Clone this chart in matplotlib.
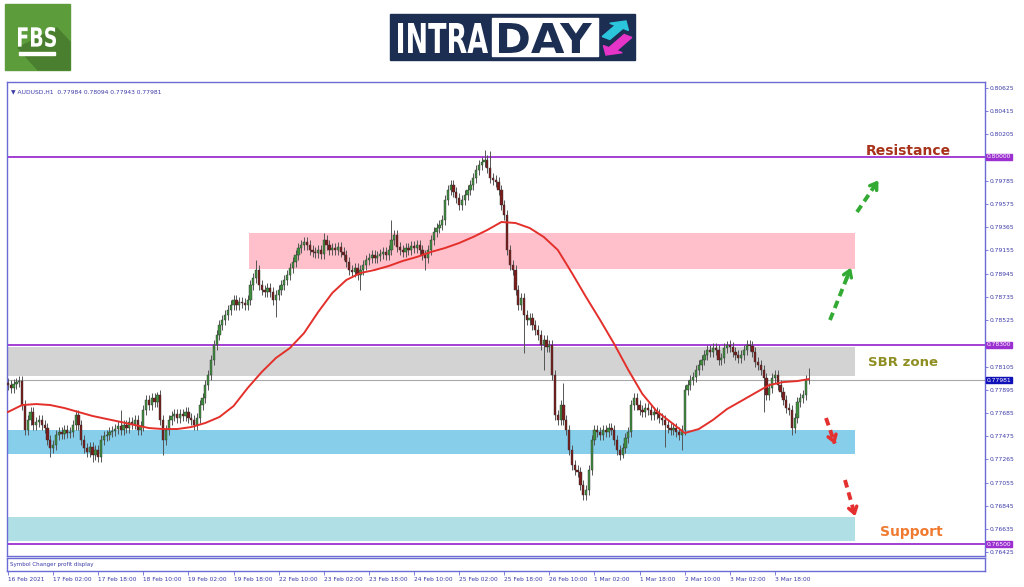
import numpy as np
import matplotlib
matplotlib.use("Agg")
import matplotlib.pyplot as plt
from matplotlib.patches import Rectangle, Polygon, FancyArrow, PathPatch
from matplotlib.textpath import TextPath
from matplotlib.transforms import Affine2D
from matplotlib.font_manager import FontProperties

# ---- data (AUDUSD H1) ----
time_labels = ['16 Feb 2021', '17 Feb 02:00', '17 Feb 18:00', '18 Feb 10:00', '19 Feb 02:00',
               '19 Feb 18:00', '22 Feb 10:00', '23 Feb 02:00', '23 Feb 18:00', '24 Feb 10:00',
               '25 Feb 02:00', '25 Feb 18:00', '26 Feb 10:00', '1 Mar 02:00', '1 Mar 18:00',
               '2 Mar 10:00', '3 Mar 02:00', '3 Mar 18:00']
bars_per_label = 16

first_open = 0.77960
closes = [
    0.77938, 0.77911, 0.77947, 0.77965, 0.77974, 0.77757, 0.77531, 0.77622, 0.77694, 0.77576,
    0.77604, 0.77622, 0.77576, 0.77549, 0.77441, 0.77369, 0.77396, 0.77486, 0.77513, 0.77495,
    0.77531, 0.77504, 0.77513, 0.77576, 0.77667, 0.77576, 0.77441, 0.77369, 0.77332, 0.77378,
    0.77305, 0.77350, 0.77287, 0.77441, 0.77477, 0.77486, 0.77513, 0.77522, 0.77540, 0.77567,
    0.77531, 0.77576, 0.77549, 0.77604, 0.77585, 0.77622, 0.77531, 0.77567, 0.77712, 0.77803,
    0.77757, 0.77821, 0.77784, 0.77848, 0.77622, 0.77441, 0.77531, 0.77622, 0.77658, 0.77676,
    0.77640, 0.77676, 0.77658, 0.77694, 0.77640, 0.77622, 0.77576, 0.77640, 0.77757, 0.77821,
    0.77938, 0.78029, 0.78164, 0.78300, 0.78390, 0.78481, 0.78526, 0.78571, 0.78616, 0.78662,
    0.78707, 0.78662, 0.78689, 0.78680, 0.78662, 0.78707, 0.78843, 0.78906, 0.78978, 0.78843,
    0.78797, 0.78779, 0.78815, 0.78779, 0.78707, 0.78752, 0.78797, 0.78843, 0.78888, 0.78933,
    0.78996, 0.79050, 0.79114, 0.79177, 0.79204, 0.79231, 0.79204, 0.79159, 0.79141, 0.79132,
    0.79159, 0.79123, 0.79249, 0.79204, 0.79159, 0.79177, 0.79159, 0.79186, 0.79141, 0.79114,
    0.79050, 0.78978, 0.78960, 0.78996, 0.78933, 0.78978, 0.79023, 0.79069, 0.79087, 0.79114,
    0.79087, 0.79105, 0.79123, 0.79141, 0.79114, 0.79159, 0.79249, 0.79295, 0.79186, 0.79159,
    0.79141, 0.79177, 0.79159, 0.79195, 0.79177, 0.79204, 0.79159, 0.79114, 0.79087, 0.79159,
    0.79249, 0.79322, 0.79358, 0.79385, 0.79430, 0.79611, 0.79702, 0.79747, 0.79683, 0.79629,
    0.79566, 0.79611, 0.79656, 0.79702, 0.79747, 0.79810, 0.79882, 0.79928, 0.79955, 0.79973,
    0.79901, 0.79810, 0.79792, 0.79774, 0.79702, 0.79566, 0.79476, 0.79159, 0.79023, 0.78978,
    0.78797, 0.78662, 0.78725, 0.78571, 0.78526, 0.78544, 0.78481, 0.78436, 0.78390, 0.78300,
    0.78345, 0.78282, 0.78300, 0.78029, 0.77667, 0.77622, 0.77757, 0.77622, 0.77531, 0.77350,
    0.77215, 0.77170, 0.77152, 0.77034, 0.76944, 0.76989, 0.77170, 0.77441, 0.77531, 0.77513,
    0.77486, 0.77531, 0.77513, 0.77549, 0.77531, 0.77441, 0.77350, 0.77305, 0.77369, 0.77459,
    0.77513, 0.77757, 0.77821, 0.77757, 0.77712, 0.77694, 0.77730, 0.77712, 0.77667, 0.77694,
    0.77676, 0.77640, 0.77622, 0.77576, 0.77549, 0.77531, 0.77549, 0.77513, 0.77486, 0.77531,
    0.77893, 0.77938, 0.77983, 0.78010, 0.78074, 0.78119, 0.78164, 0.78209, 0.78255, 0.78237,
    0.78273, 0.78255, 0.78164, 0.78182, 0.78273, 0.78300, 0.78282, 0.78237, 0.78209, 0.78182,
    0.78209, 0.78255, 0.78300, 0.78291, 0.78237, 0.78146, 0.78119, 0.78074, 0.78001, 0.77848,
    0.77911, 0.78001, 0.78029, 0.77938, 0.77875, 0.77803, 0.77730, 0.77712, 0.77549, 0.77640,
    0.77784, 0.77821, 0.77848, 0.77984, 0.77981,
]
# spikes that stick out further than the usual wick
spike_highs = {3: 0.78001, 40: 0.77712, 53: 0.77875, 88: 0.79069, 112: 0.79313, 136: 0.79430,
               169: 0.80063, 171: 0.80054, 197: 0.77956, 255: 0.78336, 284: 0.78094}
spike_lows = {15: 0.77287, 30: 0.77242, 55: 0.77305, 95: 0.78553, 125: 0.78797, 148: 0.78978,
              183: 0.78228, 190: 0.78074, 204: 0.76898, 218: 0.77278, 233: 0.77378, 239: 0.77350,
              268: 0.77694, 278: 0.77486, 284: 0.77943}
wick = 0.00045

# red moving average, read every 5 bars
ma_bars = list(range(0, 281, 5)) + [284]
ma_values = [
    0.77694, 0.77757, 0.77766, 0.77757, 0.77730, 0.77694, 0.77658, 0.77631, 0.77604, 0.77576,
    0.77549, 0.77540, 0.77540, 0.77558, 0.77595, 0.77649, 0.77748, 0.77911, 0.78056, 0.78182,
    0.78273, 0.78408, 0.78598, 0.78770, 0.78888, 0.78951, 0.78978, 0.79014, 0.79060, 0.79096,
    0.79141, 0.79177, 0.79222, 0.79277, 0.79340, 0.79412, 0.79403, 0.79358, 0.79277, 0.79159,
    0.78951, 0.78734, 0.78526, 0.78309, 0.78074, 0.77857, 0.77703, 0.77604, 0.77504, 0.77540,
    0.77622, 0.77721, 0.77793, 0.77866, 0.77938, 0.77965, 0.77974, 0.77992,
]

# zones (low, high) and levels
sell_zone = (0.78987, 0.79313)
sbr_zone = (0.78020, 0.78282)
buy_zone = (0.77314, 0.77531)
support_zone = (0.76528, 0.76745)
resistance = 0.80000
sbr_level = 0.78300
support = 0.76500
last_price = 0.77981
header = "\u25bc AUDUSD,H1  0.77984 0.78094 0.77943 0.77981"

y_ticks = [0.80625, 0.80415, 0.80205, 0.79785, 0.79575, 0.79365, 0.79155, 0.78945, 0.78735,
           0.78525, 0.78105, 0.77895, 0.77685, 0.77475, 0.77265, 0.77055, 0.76845, 0.76635, 0.76425]

# ---- build OHLC ----
closes = np.array(closes)
opens = np.concatenate([[first_open], closes[:-1]])
n = len(closes)
x = np.arange(n)
highs = np.maximum(opens, closes) + wick
lows = np.minimum(opens, closes) - wick
for i, v in spike_highs.items():
    highs[i] = v
for i, v in spike_lows.items():
    lows[i] = v

W, H = 1024, 587
fig = plt.figure(figsize=(W / 100, H / 100), dpi=100)
fig.patch.set_facecolor('white')

def fx(px):
    return px / W

def fy(py):
    return 1 - py / H

border = '#6b6bd6'
axis_txt = '#3a3aa8'
purple = '#9b2fd0'

ax = fig.add_axes([fx(7), fy(556), fx(985) - fx(7), fy(82) - fy(556)])
ax.set_xlim(-0.35, 346.5)
ax.set_ylim(0.76392, 0.80678)
for s in ax.spines.values():
    s.set_color(border)
    s.set_linewidth(1.0)

# zones
ax.add_patch(Rectangle((85.5, sell_zone[0]), 300.4 - 85.5, sell_zone[1] - sell_zone[0],
                       color='#ffc0cb', zorder=0, lw=0))
for lo_hi, col in [(sbr_zone, '#d3d3d3'), (buy_zone, '#87ceeb'), (support_zone, '#b0e0e6')]:
    ax.add_patch(Rectangle((-0.35, lo_hi[0]), 300.4 + 0.35, lo_hi[1] - lo_hi[0],
                           color=col, zorder=0, lw=0))

# levels
for lvl in (resistance, sbr_level, support):
    ax.axhline(lvl, color=purple, lw=1.3, zorder=1)
ax.axhline(last_price, color='#a8a8a8', lw=0.8, zorder=1)

# candles
up = closes >= opens
ax.vlines(x, lows, highs, color='#555555', lw=0.7, zorder=2)
body_col = np.where(up, '#3f8f3f', '#7a1c1c')
ax.bar(x, closes - opens, bottom=opens, width=0.8, color=body_col,
       edgecolor='#333333', linewidth=0.3, zorder=3)

# moving average
ax.plot(ma_bars, ma_values, color='#e3302b', lw=1.4, zorder=4)

# right price scale
ax.yaxis.tick_right()
ax.set_yticks(y_ticks)
ax.set_yticklabels([f'{v:.5f}' for v in y_ticks])
ax.tick_params(axis='y', colors=border, labelcolor=axis_txt, labelsize=4.3, length=2, width=0.6, pad=1)
ax.set_xticks([])

def price_box(val, col):
    ax.text(1.0015, val, f'{val:.5f}', transform=ax.get_yaxis_transform(), fontsize=4.3,
            color='white', va='center', ha='left',
            bbox=dict(boxstyle='square,pad=0.12', fc=col, ec=col), zorder=6, clip_on=False)

for lvl in (resistance, sbr_level, support):
    price_box(lvl, purple)
price_box(last_price, '#1010b8')

ax.text(0.004, 0.985, header, transform=ax.transAxes, fontsize=4.3, color=axis_txt,
        va='top', ha='left')

# annotations
ax.text(fx(866), fy(151), 'Resistance', transform=fig.transFigure, fontsize=10, fontweight='bold',
        color='#a8321a', va='center', ha='left')
ax.text(fx(868), fy(363), 'SBR zone', transform=fig.transFigure, fontsize=9.5, fontweight='bold',
        color='#8e8e22', va='center', ha='left')
ax.text(fx(880), fy(532), 'Support', transform=fig.transFigure, fontsize=10, fontweight='bold',
        color='#f07a30', va='center', ha='left')

def dashed_arrow(p0, p1, col):
    x0, y0 = fx(p0[0]), fy(p0[1])
    x1, y1 = fx(p1[0]), fy(p1[1])
    fig.add_artist(plt.Line2D([x0, x1 - (x1 - x0) * 0.12], [y0, y1 - (y1 - y0) * 0.12],
                              transform=fig.transFigure, color=col, lw=2.8,
                              linestyle=(0, (2.0, 1.3))))
    ax.annotate('', xy=(x1, y1), xytext=(x1 - (x1 - x0) * 0.3, y1 - (y1 - y0) * 0.3),
                xycoords='figure fraction', textcoords='figure fraction',
                arrowprops=dict(arrowstyle='->,head_length=0.45,head_width=0.3', color=col, lw=2.5))

dashed_arrow((830, 320), (852, 265), '#33aa33')
dashed_arrow((857, 212), (880, 178), '#33aa33')
dashed_arrow((826, 418), (836, 447), '#e53030')
dashed_arrow((845, 480), (856, 519), '#e53030')

# sub window + time axis
ax2 = fig.add_axes([fx(7), fy(571), fx(985) - fx(7), fy(558) - fy(571)])
ax2.set_xlim(-0.35, 346.5)
ax2.set_ylim(0, 1)
for s in ax2.spines.values():
    s.set_color(border)
    s.set_linewidth(1.0)
ax2.set_yticks([])
ax2.text(0.003, 0.5, 'Symbol Changer profit display', transform=ax2.transAxes, fontsize=4.0,
         color=axis_txt, va='center', ha='left')
tick_pos = np.arange(len(time_labels)) * bars_per_label
ax2.set_xticks(tick_pos)
ax2.set_xticklabels(time_labels)
ax2.tick_params(axis='x', colors=border, labelcolor=axis_txt, labelsize=4.2, length=3, width=0.6, pad=1)
for lab in ax2.get_xticklabels():
    lab.set_horizontalalignment('left')

# ---- logos ----
bold = FontProperties(family='DejaVu Sans', weight='bold')

def fit_text(s, box, color, z=4):
    # squeeze text outline into the pixel box (x0, y0, x1, y1), top-left origin
    tp = TextPath((0, 0), s, size=1, prop=bold)
    ext = tp.get_extents()
    x0, y0, x1, y1 = box
    tr = (Affine2D().translate(-ext.x0, -ext.y0)
          .scale((x1 - x0) / W / ext.width, (y1 - y0) / H / ext.height)
          .translate(fx(x0), fy(y1)))
    fig.add_artist(PathPatch(tr.transform_path(tp), transform=fig.transFigure, color=color,
                             lw=0, zorder=z))

fig.add_artist(Rectangle((fx(5), fy(70)), fx(70) - fx(5), fy(4) - fy(70), transform=fig.transFigure,
                         color='#5c9c3a', zorder=1))
fig.add_artist(Polygon([(fx(18), fy(48)), (fx(57), fy(28)), (fx(70), fy(42)), (fx(70), fy(70)),
                        (fx(38), fy(70))], closed=True, transform=fig.transFigure,
                       color='#497f2e', zorder=1))
fit_text('FBS', (18, 27, 56, 47), 'white')
fig.add_artist(Rectangle((fx(19), fy(55)), fx(55) - fx(19), fy(52) - fy(55), transform=fig.transFigure,
                         color='white', zorder=2))

fig.add_artist(Rectangle((fx(390), fy(60)), fx(635) - fx(390), fy(14) - fy(60),
                         transform=fig.transFigure, color='#1c2e52', zorder=1))
fig.add_artist(Rectangle((fx(492), fy(56)), fx(598) - fx(492), fy(18) - fy(56),
                         transform=fig.transFigure, color='white', zorder=2))
fit_text('INTRA', (398, 23, 488, 53), 'white')
fit_text('DAY', (499, 23, 592, 53), '#1c2e52')
fig.add_artist(FancyArrow(fx(606), fy(38), fx(626) - fx(606), fy(21) - fy(38), width=0.009,
                          head_width=0.022, head_length=0.012, length_includes_head=True,
                          transform=fig.transFigure, color='#2cc6dc', zorder=3))
fig.add_artist(FancyArrow(fx(628), fy(36), fx(606) - fx(628), fy(55) - fy(36), width=0.009,
                          head_width=0.022, head_length=0.012, length_includes_head=True,
                          transform=fig.transFigure, color='#e634c8', zorder=3))

fig.savefig('out.png', dpi=100, facecolor='white')
